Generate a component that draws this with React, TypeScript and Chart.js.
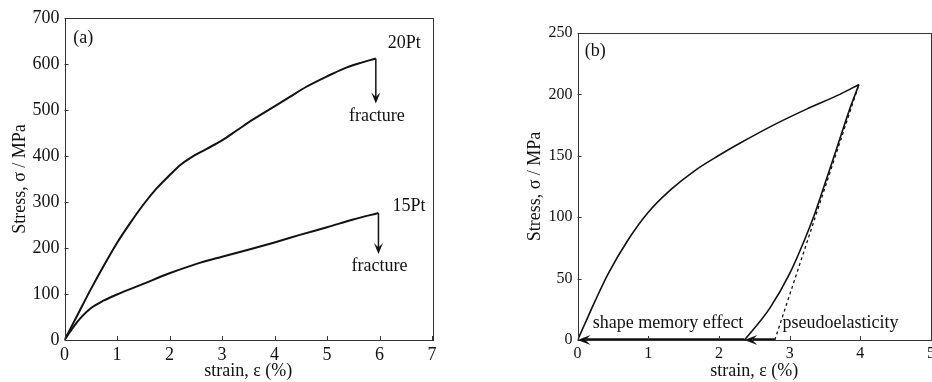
import React, { useEffect, useRef } from "react";
import { Chart, registerables } from "chart.js";

Chart.register(...registerables);

// ---------- Panel (a) data ----------
const strain20 = [0, 0.25, 0.5, 0.75, 1.0, 1.25, 1.5, 1.75, 2.0, 2.2, 2.4, 2.7, 3.0, 3.3, 3.6, 4.0, 4.3, 4.6, 5.0, 5.3, 5.6, 5.93];
const stress20 = [0, 55, 110, 162, 211, 254, 294, 329, 358, 380, 396, 415, 434, 457, 480, 508, 529, 550, 573, 589, 601, 612];
const strain15 = [0, 0.1, 0.2, 0.3, 0.5, 0.75, 1.0, 1.5, 2.0, 2.5, 3.0, 3.5, 4.0, 4.5, 5.0, 5.5, 5.98];
const stress15 = [0, 17, 33, 47, 69, 86, 99, 122, 145, 165, 181, 196, 212, 229, 245, 262, 276];
const fracture20 = { x: 5.93, from: 612, to: 514 };
const fracture15 = { x: 5.98, from: 276, to: 187 };
const xTicksA = [0, 1, 2, 3, 4, 5, 6, 7];
const yTicksA = [0, 100, 200, 300, 400, 500, 600, 700];

// ---------- Panel (b) data ----------
const loadStrain = [0, 0.1, 0.25, 0.43, 0.72, 1.0, 1.33, 1.66, 1.99, 2.32, 2.77, 3.24, 3.71, 3.98];
const loadStress = [0, 12.8, 32, 53.6, 82, 104, 123, 138, 150, 161, 175, 188, 200, 208];
const unloadStrain = [2.36, 2.39, 2.72, 3.0, 3.2, 3.35, 3.48, 3.66, 3.85, 3.98];
const unloadStress = [0, 2, 26, 54, 80, 102, 124, 155, 188, 208];
const pseudoStrain = [2.79, 3.98];
const pseudoStress = [0, 208];
const smeStrain = [2.36, 0];
const pseStrain = [2.79, 2.36];
const xTicksB = [0, 1, 2, 3, 4, 5];
const yTicksB = [0, 50, 100, 150, 200, 250];

const SERIF = '"Liberation Serif", "Times New Roman", serif';
const INK = "#111";

const pts = (xs: number[], ys: number[]) => xs.map((x, i) => ({ x, y: ys[i] }));

function drawHead(ctx: CanvasRenderingContext2D, tx: number, ty: number, dx: number, dy: number, L: number, W: number) {
  const nx = -dy, ny = dx;
  const bx = tx - dx * L, by = ty - dy * L;
  const mx = tx - dx * L * 0.6, my = ty - dy * L * 0.6;
  ctx.beginPath();
  ctx.moveTo(tx, ty);
  ctx.lineTo(bx + nx * W, by + ny * W);
  ctx.lineTo(mx, my);
  ctx.lineTo(bx - nx * W, by - ny * W);
  ctx.closePath();
  ctx.fill();
}

const framePlugin = {
  id: "frame",
  afterDatasetsDraw(chart: any, _a: any, opts: any) {
    const { ctx, chartArea, scales } = chart;
    const { left, top, right, bottom } = chartArea;
    const xs = scales.x, ys = scales.y;
    ctx.save();
    ctx.strokeStyle = "#333";
    ctx.lineWidth = 1;
    ctx.strokeRect(Math.round(left) + 0.5, Math.round(top) + 0.5, Math.round(right - left), Math.round(bottom - top));
    ctx.beginPath();
    xs.ticks.forEach((t: any) => {
      const p = Math.round(xs.getPixelForValue(t.value)) + 0.5;
      ctx.moveTo(p, bottom);
      ctx.lineTo(p, bottom - 4);
    });
    ys.ticks.forEach((t: any) => {
      const p = Math.round(ys.getPixelForValue(t.value)) + 0.5;
      ctx.moveTo(left, p);
      ctx.lineTo(left + 4, p);
    });
    ctx.stroke();
    ctx.fillStyle = INK;
    (opts.heads || []).forEach((h: any) => {
      const tx = xs.getPixelForValue(h.x), ty = ys.getPixelForValue(h.y);
      drawHead(ctx, tx, ty, h.dx, h.dy, h.len, h.w);
    });
    (opts.texts || []).forEach((t: any) => {
      ctx.font = `${t.size}px ${SERIF}`;
      ctx.textAlign = t.align || "center";
      ctx.textBaseline = "middle";
      ctx.fillText(t.text, xs.getPixelForValue(t.x), ys.getPixelForValue(t.y));
    });
    ctx.restore();
  },
};

function makeScales(xmin: number, xmax: number, ymax: number, yWidth: number, tickSize: number, yTitlePad: number, xTickLabels: number[], yTickLabels: number[]) {
  return {
    x: {
      type: "linear",
      min: xmin,
      max: xmax,
      afterBuildTicks: (s: any) => { s.ticks = xTickLabels.map((v) => ({ value: v })); },
      ticks: { color: INK, font: { family: SERIF, size: tickSize }, padding: 4, maxRotation: 0, autoSkip: false },
      grid: { display: false, drawTicks: false },
      border: { display: false },
      title: { display: true, text: "strain, ε (%)", color: INK, font: { family: SERIF, size: 18 }, padding: { top: 0, bottom: 0 } },
      afterFit: (s: any) => { s.height = 42; s.paddingLeft = 0; s.paddingRight = 0; },
    },
    y: {
      type: "linear",
      min: 0,
      max: ymax,
      afterBuildTicks: (s: any) => { s.ticks = yTickLabels.map((v) => ({ value: v })); },
      ticks: { color: INK, font: { family: SERIF, size: tickSize }, padding: 5, autoSkip: false },
      grid: { display: false, drawTicks: false },
      border: { display: false },
      title: { display: true, text: "Stress, σ / MPa", color: INK, font: { family: SERIF, size: 18 }, padding: { top: yTitlePad, bottom: 0 } },
      afterFit: (s: any) => { s.width = yWidth; s.paddingTop = 0; s.paddingBottom = 0; },
    },
  };
}

function lineDs(data: any[], width: number, dash: number[] = [], smooth = true) {
  return {
    data,
    borderColor: INK,
    backgroundColor: INK,
    borderWidth: width,
    borderDash: dash,
    pointRadius: 0,
    showLine: true,
    fill: false,
    cubicInterpolationMode: smooth ? "monotone" : "default",
    tension: smooth ? 0.4 : 0,
  };
}

export default function App() {
  const refA = useRef<HTMLCanvasElement>(null);
  const refB = useRef<HTMLCanvasElement>(null);

  useEffect(() => {
    const chartA = new Chart(refA.current as HTMLCanvasElement, {
      type: "scatter",
      data: {
        datasets: [
          lineDs(pts(strain20, stress20), 2),
          lineDs(pts(strain15, stress15), 2),
          lineDs([{ x: fracture20.x, y: fracture20.from }, { x: fracture20.x, y: fracture20.to + 8 }], 1.5, [], false),
          lineDs([{ x: fracture15.x, y: fracture15.from }, { x: fracture15.x, y: fracture15.to + 8 }], 1.5, [], false),
        ] as any,
      },
      options: {
        responsive: false,
        animation: false,
        events: [],
        layout: { padding: { top: 18, right: 38, left: 0, bottom: 0 } },
        scales: makeScales(0, 7, 700, 64.5, 18, 9, xTicksA, yTicksA) as any,
        plugins: {
          legend: { display: false },
          tooltip: { enabled: false },
          frame: {
            heads: [
              { x: fracture20.x, y: fracture20.to, dx: 0, dy: 1, len: 11, w: 4.5 },
              { x: fracture15.x, y: fracture15.to, dx: 0, dy: 1, len: 11, w: 4.5 },
            ],
            texts: [
              { text: "(a)", x: 0.165, y: 655, size: 18, align: "left" },
              { text: "20Pt", x: 6.47, y: 645, size: 18 },
              { text: "fracture", x: 5.95, y: 487, size: 18 },
              { text: "15Pt", x: 6.56, y: 290, size: 18 },
              { text: "fracture", x: 6.0, y: 160, size: 18 },
            ],
          },
        } as any,
      },
      plugins: [framePlugin as any],
    });

    const chartB = new Chart(refB.current as HTMLCanvasElement, {
      type: "scatter",
      data: {
        datasets: [
          lineDs(pts(loadStrain, loadStress), 1.6),
          lineDs(pts(unloadStrain, unloadStress), 1.6),
          lineDs(pts(pseudoStrain, pseudoStress), 1.3, [3, 3], false),
          lineDs(pts(smeStrain.map((v, i) => (i === 1 ? v + 0.12 : v)), [0, 0]), 3.5, [], false),
          lineDs(pts(pseStrain.map((v, i) => (i === 1 ? v + 0.12 : v)), [0, 0]), 3.5, [], false),
        ] as any,
      },
      options: {
        responsive: false,
        animation: false,
        events: [],
        layout: { padding: { top: 33, right: 1, left: 0, bottom: 0 } },
        scales: makeScales(0, 5, 250, 107.6, 16, 54, xTicksB, yTicksB) as any,
        plugins: {
          legend: { display: false },
          tooltip: { enabled: false },
          frame: {
            heads: [
              { x: smeStrain[1], y: 0, dx: -1, dy: 0, len: 13, w: 5 },
              { x: pseStrain[1], y: 0, dx: -1, dy: 0, len: 13, w: 5 },
            ],
            texts: [
              { text: "(b)", x: 0.1, y: 235, size: 18, align: "left" },
              { text: "shape memory effect", x: 1.28, y: 13.5, size: 18 },
              { text: "pseudoelasticity", x: 3.72, y: 13.5, size: 18 },
            ],
          },
        } as any,
      },
      plugins: [framePlugin as any],
    });

    return () => {
      chartA.destroy();
      chartB.destroy();
    };
  }, []);

  return (
    <div style={{ position: "fixed", left: 0, top: 0, width: 932, height: 382, background: "#fff", overflow: "hidden" }}>
      <canvas ref={refA} width={470} height={382} style={{ position: "absolute", left: 0, top: 0 }} />
      <canvas ref={refB} width={462} height={382} style={{ position: "absolute", left: 470, top: 0 }} />
    </div>
  );
}
